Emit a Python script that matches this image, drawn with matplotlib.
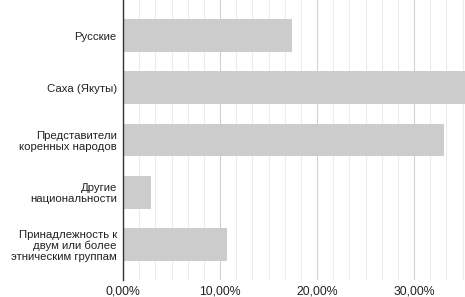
import matplotlib
matplotlib.use("Agg")
import matplotlib.pyplot as plt
from matplotlib.ticker import FixedLocator, FuncFormatter
import numpy as np

categories = ["Русские", "Саха (Якуты)", "Представители\nкоренных народов",
              "Другие\nнациональности",
              "Принадлежность к\nдвум или более\nэтническим группам"]
values = [17.4, 35.6, 33.1, 2.85, 10.75]
major_ticks = [0, 10, 20, 30]

plt.rcParams['font.family'] = ['Arimo', 'Liberation Sans', 'DejaVu Sans']

W, H = 465, 297
fig = plt.figure(figsize=(W / 100, H / 100), dpi=100)
left, right = 123 / W, 1.0
top_px, bot_px = 0, 280
ax = fig.add_axes([left, 1 - bot_px / H, right - left, (bot_px - top_px) / H])

xmax = (465 - 123) / 97 * 10
y = np.arange(len(categories))
ax.barh(y, values, height=0.63, color="#cccccc", zorder=2)
ax.set_xlim(0, xmax)
ax.set_ylim(len(categories) - 1 + 0.68, -0.68)

minor = [m for m in np.arange(0, xmax, 10 / 6)]
ax.xaxis.set_major_locator(FixedLocator(major_ticks))
ax.xaxis.set_minor_locator(FixedLocator(minor))
ax.grid(which="minor", axis="x", color="#ebebeb", linewidth=0.8, zorder=0)
ax.grid(which="major", axis="x", color="#d2d2d2", linewidth=0.8, zorder=0)
ax.xaxis.set_major_formatter(FuncFormatter(lambda v, p: f"{v:.2f}%".replace(".", ",")))

ax.set_yticks(y)
ax.set_yticklabels(categories, fontsize=8.2, color="#222222", linespacing=1.1)
ax.tick_params(axis="y", length=0, pad=4.5)
ax.tick_params(axis="x", which="both", length=0, pad=4, labelsize=8.8, labelcolor="#222222")

for s in ["top", "right", "bottom"]:
    ax.spines[s].set_visible(False)
ax.spines["left"].set_color("#333333")
ax.spines["left"].set_linewidth(1)
ax.spines["left"].set_zorder(3)

fig.savefig("out.png", dpi=100)
